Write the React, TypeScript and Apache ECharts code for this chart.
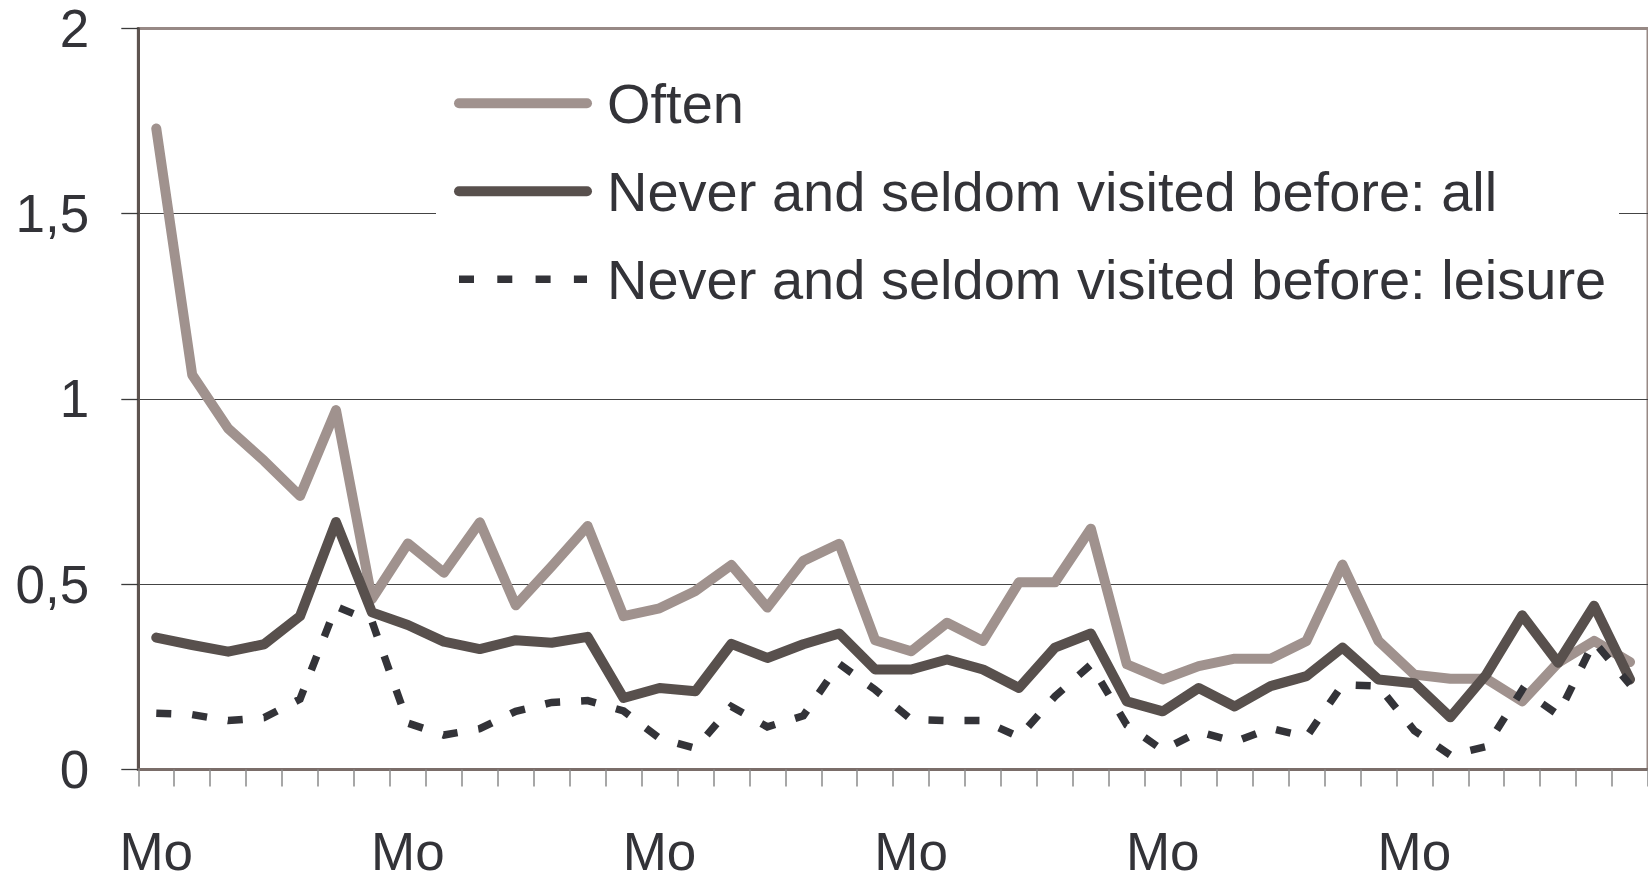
import React, { useEffect, useRef } from "react";
import * as echarts from "echarts";

const FONT = "'Liberation Sans', Arial, Helvetica, sans-serif";

// 6 weeks of daily categories (only Mondays are labelled)
const days: string[] = [
  "Mo", "Tu", "We", "Th", "Fr", "Sa", "Su",
  "Mo", "Tu", "We", "Th", "Fr", "Sa", "Su",
  "Mo", "Tu", "We", "Th", "Fr", "Sa", "Su",
  "Mo", "Tu", "We", "Th", "Fr", "Sa", "Su",
  "Mo", "Tu", "We", "Th", "Fr", "Sa", "Su",
  "Mo", "Tu", "We", "Th", "Fr", "Sa", "Su",
];

const seriesNames = [
  "Often",
  "Never and seldom visited before: all",
  "Never and seldom visited before: leisure",
];

const often: number[] = [
  1.73, 1.065, 0.92, 0.833, 0.738, 0.97, 0.46,
  0.61, 0.531, 0.667, 0.443, 0.548, 0.657, 0.414,
  0.435, 0.482, 0.552, 0.437, 0.563, 0.609, 0.349,
  0.319, 0.396, 0.347, 0.505, 0.505, 0.65, 0.284,
  0.243, 0.279, 0.299, 0.299, 0.347, 0.553, 0.347,
  0.256, 0.245, 0.245, 0.184, 0.288, 0.347, 0.29,
];

const neverAll: number[] = [
  0.356, 0.336, 0.318, 0.338, 0.414, 0.668, 0.424,
  0.39, 0.345, 0.325, 0.349, 0.342, 0.358, 0.193,
  0.22, 0.211, 0.339, 0.301, 0.338, 0.367, 0.27,
  0.27, 0.297, 0.27, 0.22, 0.329, 0.367, 0.184,
  0.157, 0.22, 0.17, 0.225, 0.252, 0.329, 0.243,
  0.233, 0.141, 0.256, 0.416, 0.288, 0.442, 0.243,
];

const neverLeisure: number[] = [
  0.152, 0.148, 0.132, 0.14, 0.19, 0.44, 0.4,
  0.125, 0.093, 0.11, 0.157, 0.181, 0.186, 0.158,
  0.084, 0.057, 0.17, 0.115, 0.145, 0.285, 0.215,
  0.135, 0.132, 0.132, 0.088, 0.197, 0.283, 0.12,
  0.052, 0.102, 0.075, 0.111, 0.088, 0.229, 0.225,
  0.105, 0.039, 0.062, 0.215, 0.148, 0.345, 0.229,
];

const yMin = 0;
const yMax = 2;
const yStep = 0.5;

const COLORS = ["#a0928e", "#58504d", "#333338"];
const TEXT = "#333338";

export default function App() {
  const ref = useRef<HTMLDivElement>(null);

  useEffect(() => {
    if (!ref.current) return;
    const chart = echarts.init(ref.current, undefined, { renderer: "svg" });
    chart.setOption({
      animation: false,
      textStyle: { fontFamily: FONT },
      grid: {
        left: 138.3,
        right: -6.5,
        top: 28.4,
        bottom: 110.5,
        show: true,
        borderColor: "#978985",
        borderWidth: 3,
        backgroundColor: "transparent",
      },
      graphic: [
        {
          type: "rect",
          z: 1,
          shape: { x: 436, y: 50, width: 1183, height: 290 },
          style: { fill: "#ffffff" },
        },
      ],
      legend: {
        orient: "vertical",
        left: 454,
        top: 75.3,
        padding: 0,
        itemGap: 32,
        itemWidth: 128,
        itemHeight: 14,
        selectedMode: false,
        itemStyle: { opacity: 0 },
        textStyle: {
          fontFamily: FONT,
          fontSize: 56,
          lineHeight: 56,
          color: TEXT,
          padding: [0, 0, 0, 15],
        },
        data: [
          { name: seriesNames[0], itemStyle: { opacity: 0 }, lineStyle: { width: 10, opacity: 1 } },
          { name: seriesNames[1], itemStyle: { opacity: 0 }, lineStyle: { width: 10, opacity: 1 } },
          {
            name: seriesNames[2],
            itemStyle: { opacity: 0 },
            lineStyle: { width: 7.5, type: [15, 23.3], opacity: 1 },
          },
        ],
      },
      xAxis: {
        type: "category",
        data: days,
        boundaryGap: true,
        axisLine: { show: true, lineStyle: { color: "#7a6d69", width: 3 } },
        axisTick: {
          show: true,
          interval: 0,
          length: 17,
          lineStyle: { color: "#8a8a8a", width: 1.5 },
        },
        axisLabel: {
          interval: 6,
          margin: 55,
          fontSize: 53,
          color: TEXT,
          fontFamily: FONT,
        },
        splitLine: { show: false },
      },
      yAxis: {
        type: "value",
        min: yMin,
        max: yMax,
        interval: yStep,
        axisLine: { show: true, lineStyle: { color: "#5e5450", width: 3 } },
        axisTick: {
          show: true,
          length: 17,
          lineStyle: { color: "#3a3a3a", width: 1.3 },
        },
        axisLabel: {
          margin: 49,
          fontSize: 53,
          color: TEXT,
          fontFamily: FONT,
          formatter: (v: number) => String(v).replace(".", ","),
        },
        splitLine: {
          show: true,
          showMinLine: false,
          showMaxLine: false,
          lineStyle: { color: "#444444", width: 1.2 },
        },
      },
      series: [
        {
          name: seriesNames[0],
          type: "line",
          data: often,
          symbol: "none",
          z: 2,
          lineStyle: { color: COLORS[0], width: 10, cap: "round", join: "round" },
          itemStyle: { color: COLORS[0] },
        },
        {
          name: seriesNames[1],
          type: "line",
          data: neverAll,
          symbol: "none",
          z: 3,
          lineStyle: { color: COLORS[1], width: 10, cap: "round", join: "round" },
          itemStyle: { color: COLORS[1] },
        },
        {
          name: seriesNames[2],
          type: "line",
          data: neverLeisure,
          symbol: "none",
          z: 4,
          lineStyle: { color: COLORS[2], width: 7.5, type: [15, 21], cap: "butt", join: "miter" },
          itemStyle: { color: COLORS[2] },
        },
      ],
    });
    return () => chart.dispose();
  }, []);

  return (
    <div
      ref={ref}
      style={{ position: "fixed", left: 0, top: 0, width: 1648, height: 880, background: "#fff" }}
    />
  );
}
